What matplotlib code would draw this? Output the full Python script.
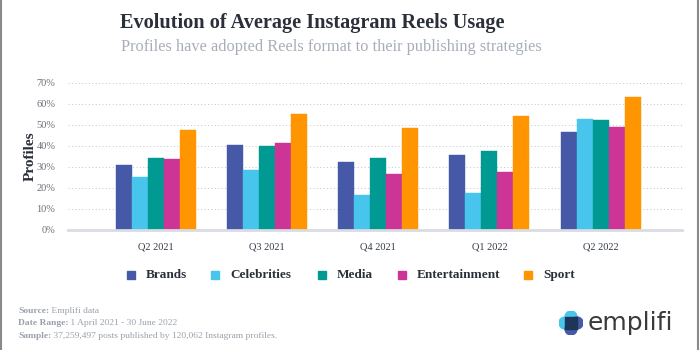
import numpy as np
import matplotlib
matplotlib.use("Agg")
from matplotlib import pyplot as plt
from matplotlib.patches import Rectangle, Circle
from matplotlib.lines import Line2D

# ---------------------- Data ----------------------
quarters = ['Q2 2021', 'Q3 2021', 'Q4 2021', 'Q1 2022', 'Q2 2022']
brands = [31, 40.5, 32.5, 35.5, 46.5]
celebrities = [25, 28.5, 16.5, 17.8, 52.8]
media = [34.5, 40, 34.2, 37.7, 52.3]
entertainment = [33.8, 41.2, 26.8, 27.5, 48.8]
sport = [47.4, 55.2, 48.5, 54.2, 63.5]

series_names = ['Brands', 'Celebrities', 'Media', 'Entertainment', 'Sport']
series_colors = ['#4559A7', '#48C5EC', '#019A92', '#CC3495', '#FF9500']

plt.rcParams['font.family'] = ['Liberation Serif', 'DejaVu Serif']

fig = plt.figure(figsize=(7, 3.5), dpi=100)
ax = fig.add_axes([0.097, 0.343, 0.877, 0.42])

# ---------------------- Bars ----------------------
x = np.arange(len(quarters))
bar_w = 0.144
all_series = [brands, celebrities, media, entertainment, sport]
for i, (vals, col) in enumerate(zip(all_series, series_colors)):
    ax.bar(x + (i - 2) * bar_w, vals, width=bar_w, color=col, zorder=3,
           edgecolor=col, linewidth=0.3)

ax.set_xlim(-0.79, 4.73)
ax.set_ylim(0, 70)
ax.set_yticks(np.arange(0, 71, 10))
ax.set_yticklabels([f'{v}%' for v in range(0, 71, 10)], color='#6b6f78', fontsize=7.5)
ax.set_xticks(x)
ax.set_xticklabels(quarters, color='#333a45', fontsize=7.5)
ax.tick_params(axis='both', length=0)
ax.tick_params(axis='x', pad=9)
ax.tick_params(axis='y', pad=9)

ax.yaxis.grid(True, linestyle=(0, (1, 2.5)), color='#c0c4cc', linewidth=0.7, zorder=0)
for s in ['top', 'right', 'left']:
    ax.spines[s].set_visible(False)
ax.spines['bottom'].set_color('#d9dce3')
ax.spines['bottom'].set_linewidth(2)
ax.spines['bottom'].set_zorder(4)

ax.set_ylabel('Profiles', fontsize=11, fontweight='bold', color='#2a2f3a', labelpad=0)

# ---------------------- Titles ----------------------
fig.text(0.446, 0.935, 'Evolution of Average Instagram Reels Usage', ha='center', va='center',
         fontsize=14.6, fontweight='bold', color='#2a2f3a')
fig.text(0.474, 0.866, 'Profiles have adopted Reels format to their publishing strategies',
         ha='center', va='center', fontsize=11.8, color='#a8aeb8')

# ---------------------- Legend ----------------------
marker_x = [131, 215, 322, 402, 528]
leg_y = 1 - 275 / 350
for name, col, mx in zip(series_names, series_colors, marker_x):
    fig.patches.append(Rectangle((mx / 700 - 4 / 700, leg_y - 4 / 350), 8 / 700, 8 / 350,
                                 transform=fig.transFigure, color=col))
    fig.text(mx / 700 + 15 / 700, leg_y, name, ha='left', va='center', fontsize=9.5,
             fontweight='bold', color='#2a2f3a')

# ---------------------- Footer ----------------------
footer = [('Source:', ' Emplifi data', 311),
          ('Date Range:', ' 1 April 2021 - 30 June 2022', 323),
          ('Sample:', ' 37,259,497 posts published by 120,062 Instagram profiles.', 336)]
fig.canvas.draw()
for lab, txt, yy in footer:
    t = fig.text(18 / 700, 1 - yy / 350, lab, ha='left', va='center', fontsize=6.8,
                 fontweight='bold', color='#9aa0ab')
    bb = t.get_window_extent(renderer=fig.canvas.get_renderer())
    fig.text(bb.x1 / 700, 1 - yy / 350, txt, ha='left', va='center', fontsize=6.8,
             color='#9aa0ab')

# ---------------------- Logo ----------------------
lax = fig.add_axes([559 / 700, 1 - 335 / 350, 24 / 700, 24 / 350])
lax.set_xlim(-1.5, 1.5)
lax.set_ylim(-1.5, 1.5)
lax.axis('off')
lax.add_patch(Circle((0, 0.75), 0.75, color='#48C5EC'))
lax.add_patch(Circle((-0.75, 0), 0.75, color='#48C5EC'))
lax.add_patch(Circle((0.75, 0), 0.75, color='#4559A7'))
lax.add_patch(Circle((0, -0.75), 0.75, color='#4559A7'))
lax.add_patch(Rectangle((-0.75, -0.75), 1.5, 1.5, color='#1d3557'))
fig.text(588 / 700, 1 - 323 / 350, 'emplifi', ha='left', va='center', fontsize=18,
         color='#3a3a3a', family='DejaVu Sans')

# ---------------------- Frame ----------------------
fig.add_artist(Line2D([1 / 700, 1 / 700], [0, 1], transform=fig.transFigure, color='#8a8a8a', lw=1.5))
fig.add_artist(Line2D([697.5 / 700, 697.5 / 700], [0, 1], transform=fig.transFigure, color='#8a8a8a', lw=1.5))

fig.savefig('out.png', dpi=100)
